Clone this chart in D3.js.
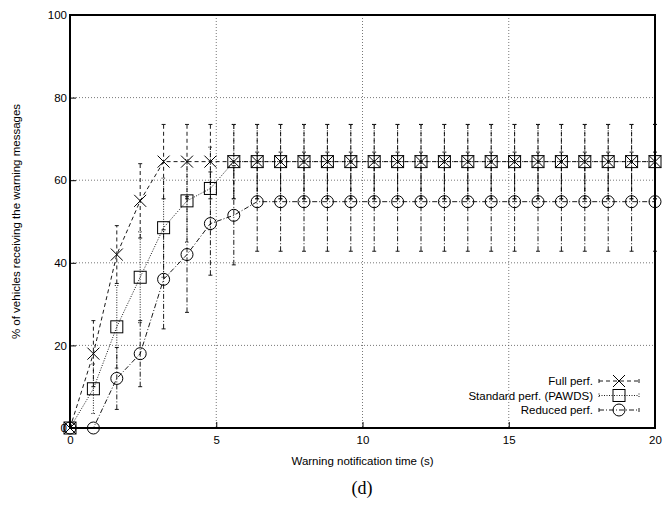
<!DOCTYPE html>
<html>
<head>
<meta charset="utf-8">
<script src="https://cdn.jsdelivr.net/npm/d3@7"></script>
<style>
  body { margin: 0; background: #fff; }
  text { font-family: "Liberation Sans", Arial, sans-serif; fill: #000; }
</style>
</head>
<body>
<svg id="chart" width="669" height="508"></svg>
<script>
/*
Chart data.
 */
var times = [0, 0.8, 1.6, 2.4, 3.2, 4.0, 4.8, 5.6, 6.4, 7.2, 8.0, 8.8, 9.6,
             10.4, 11.2, 12.0, 12.8, 13.6, 14.4, 15.2, 16.0, 16.8, 17.6, 18.4, 19.2, 20.0];

var fullPerf = [0, 18, 42, 55, 64.5, 64.5, 64.5, 64.5, 64.5, 64.5, 64.5, 64.5, 64.5,
                64.5, 64.5, 64.5, 64.5, 64.5, 64.5, 64.5, 64.5, 64.5, 64.5, 64.5, 64.5, 64.5];
var fullErr = [0, 8, 7, 9, 9, 9, 9, 9, 9, 9, 9, 9, 9,
               9, 9, 9, 9, 9, 9, 9, 9, 9, 9, 9, 9, 9];

var standardPerf = [0, 9.5, 24.5, 36.5, 48.5, 55, 58, 64.5, 64.5, 64.5, 64.5, 64.5, 64.5,
                    64.5, 64.5, 64.5, 64.5, 64.5, 64.5, 64.5, 64.5, 64.5, 64.5, 64.5, 64.5, 64.5];
var standardErr = [0, 6, 10, 11, 12, 10, 10, 9, 9, 9, 9, 9, 9,
                   9, 9, 9, 9, 9, 9, 9, 9, 9, 9, 9, 9, 9];

var reducedPerf = [0, 0, 12, 18, 36, 42, 49.5, 51.5, 54.8, 54.8, 54.8, 54.8, 54.8,
                   54.8, 54.8, 54.8, 54.8, 54.8, 54.8, 54.8, 54.8, 54.8, 54.8, 54.8, 54.8, 54.8];
var reducedErr = [0, 0, 7.5, 8, 12, 14, 12.5, 12, 12, 12, 12, 12, 12,
                  12, 12, 12, 12, 12, 12, 12, 12, 12, 12, 12, 12, 12];

var seriesNames = ["Full perf.", "Standard perf. (PAWDS)", "Reduced perf."];
var xTicks = [0, 5, 10, 15, 20];
var yTicks = [0, 20, 40, 60, 80, 100];

/*
Layout constants
 */
const margin = {left: 70, right: 14, top: 15, bottom: 80};
const width = 669 - margin.left - margin.right;
const height = 508 - margin.top - margin.bottom;

const series = [
    {name: seriesNames[0], values: fullPerf, err: fullErr, dash: "4,3", marker: "cross"},
    {name: seriesNames[1], values: standardPerf, err: standardErr, dash: "1,1.5", marker: "square"},
    {name: seriesNames[2], values: reducedPerf, err: reducedErr, dash: "5,2,1,2", marker: "circle"}
];

var svg = d3.select("#chart");
var g = svg.append("g").attr("transform", "translate(" + margin.left + "," + margin.top + ")");

var x = d3.scaleLinear().domain([0, 20]).range([0, width]);
var y = d3.scaleLinear().domain([0, 100]).range([height, 0]);

//grid, dotted
g.selectAll(".hgrid").data(yTicks.filter(function(t) { return t > 0 && t < 100; }))
    .enter().append("line")
    .attr("x1", 0).attr("x2", width)
    .attr("y1", function(d) { return y(d); }).attr("y2", function(d) { return y(d); })
    .attr("stroke", "#555").attr("stroke-width", 0.8).attr("stroke-dasharray", "1,2");
g.selectAll(".vgrid").data(xTicks.filter(function(t) { return t > 0 && t < 20; }))
    .enter().append("line")
    .attr("y1", 0).attr("y2", height)
    .attr("x1", function(d) { return x(d); }).attr("x2", function(d) { return x(d); })
    .attr("stroke", "#555").attr("stroke-width", 0.8).attr("stroke-dasharray", "1,2");

//axes with inward ticks
var xAxis = d3.axisBottom(x).tickValues(xTicks).tickSizeInner(-6).tickSizeOuter(0).tickPadding(8);
var yAxis = d3.axisLeft(y).tickValues(yTicks).tickSizeInner(-6).tickSizeOuter(0).tickPadding(8);
var gx = g.append("g").attr("transform", "translate(0," + height + ")").call(xAxis);
var gy = g.append("g").call(yAxis);
[gx, gy].forEach(function(a) {
    a.select(".domain").remove();
    a.selectAll("text").attr("fill", "#000").style("font-size", "11.5px")
        .style("font-family", "Liberation Sans, Arial, sans-serif");
    a.selectAll("line").attr("stroke", "#000");
});
gy.selectAll("text").attr("dx", "5");

//series: lines, error bars, markers
var line = d3.line()
    .x(function(d) { return x(d.t); })
    .y(function(d) { return y(d.v); });

function drawMarker(sel, type, cx, cy) {
    var s = 6;
    if (type === "cross") {
        sel.append("path")
            .attr("d", "M" + (cx - s) + "," + (cy - s) + "L" + (cx + s) + "," + (cy + s) +
                       "M" + (cx - s) + "," + (cy + s) + "L" + (cx + s) + "," + (cy - s))
            .attr("stroke", "#000").attr("stroke-width", 1).attr("fill", "none");
    } else if (type === "square") {
        sel.append("rect")
            .attr("x", cx - s).attr("y", cy - s).attr("width", 2 * s).attr("height", 2 * s)
            .attr("stroke", "#000").attr("stroke-width", 1).attr("fill", "none");
    } else {
        sel.append("circle")
            .attr("cx", cx).attr("cy", cy).attr("r", s)
            .attr("stroke", "#000").attr("stroke-width", 1).attr("fill", "none");
    }
}

series.forEach(function(s) {
    var pts = times.map(function(t, i) { return {t: t, v: s.values[i], e: s.err[i]}; });
    var sg = g.append("g");

    sg.selectAll(".err").data(pts.filter(function(d) { return d.e > 0; }))
        .enter().append("path")
        .attr("d", function(d) {
            var px = x(d.t), lo = y(d.v - d.e), hi = y(d.v + d.e);
            return "M" + px + "," + lo + "L" + px + "," + hi +
                   "M" + (px - 2) + "," + lo + "L" + (px + 2) + "," + lo +
                   "M" + (px - 2) + "," + hi + "L" + (px + 2) + "," + hi;
        })
        .attr("stroke", "#000").attr("stroke-width", 0.9)
        .attr("stroke-dasharray", s.dash).attr("fill", "none");

    sg.append("path").datum(pts)
        .attr("d", line)
        .attr("stroke", "#000").attr("stroke-width", 0.9)
        .attr("stroke-dasharray", s.dash).attr("fill", "none");

    pts.forEach(function(d) { drawMarker(sg, s.marker, x(d.t), y(d.v)); });
});

//frame
g.append("rect").attr("x", 0).attr("y", 0).attr("width", width).attr("height", height)
    .attr("fill", "none").attr("stroke", "#000").attr("stroke-width", 2);

//legend
var legend = g.append("g").attr("transform", "translate(" + (width - 56) + "," + (height - 47) + ")");
series.forEach(function(s, i) {
    var ly = i * 14.5;
    legend.append("text").attr("x", -6).attr("y", ly).attr("dy", "0.35em")
        .attr("text-anchor", "end").attr("fill", "#000").style("font-size", "11.5px").text(s.name);
    legend.append("path")
        .attr("d", "M0," + ly + "L40," + ly + "M0," + (ly - 2) + "L0," + (ly + 2) + "M40," + (ly - 2) + "L40," + (ly + 2))
        .attr("stroke", "#000").attr("stroke-width", 0.9).attr("stroke-dasharray", s.dash).attr("fill", "none");
    drawMarker(legend, s.marker, 20, ly);
});

//axis titles
svg.append("text")
    .attr("x", margin.left + width / 2).attr("y", 465)
    .attr("text-anchor", "middle").attr("fill", "#000").style("font-size", "11.5px")
    .text("Warning notification time (s)");
svg.append("text")
    .attr("transform", "translate(20," + (margin.top + height / 2) + ") rotate(-90)")
    .attr("text-anchor", "middle").attr("fill", "#000").style("font-size", "11.5px")
    .text("% of vehicles receiving the warning messages");
svg.append("text")
    .attr("x", 362).attr("y", 494)
    .attr("text-anchor", "middle").attr("fill", "#000")
    .style("font-family", "Liberation Serif, Times New Roman, serif").style("font-size", "18px")
    .text("(d)");
</script>
</body>
</html>
